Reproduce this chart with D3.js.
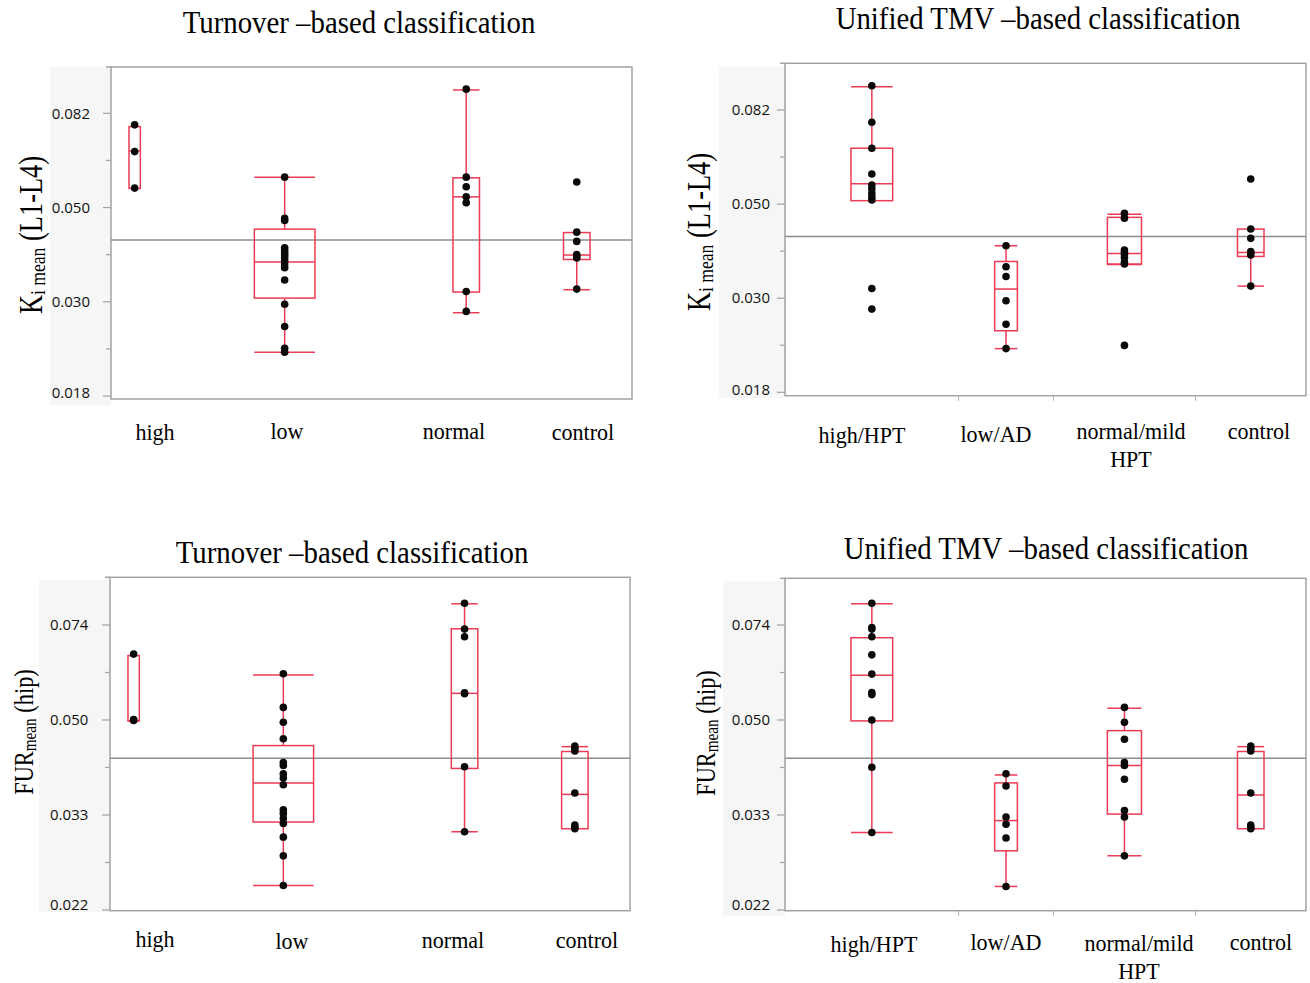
<!DOCTYPE html>
<html><head><meta charset="utf-8">
<script src="https://cdn.jsdelivr.net/npm/d3@7"></script>
<style>body{margin:0;background:#fff}</style>
</head><body>
<svg id="chart" width="1310" height="983"></svg>
<script>
// ---------------- data ----------------
const turnoverCategories = ["high", "low", "normal", "control"];
const tmvCategories = ["high/HPT", "low/AD", "normal/mild HPT", "control"];

const kiTickValues = [0.082085, 0.049787, 0.030197, 0.018316];
const kiTickLabels = ["0.082", "0.050", "0.030", "0.018"];
const kiMinorTicks = [0.063928, 0.038774, 0.023518];
const furTickValues = [0.074274, 0.049787, 0.033373, 0.022371];
const furTickLabels = ["0.074", "0.050", "0.033", "0.022"];
const furMinorTicks = [0.060810, 0.040762, 0.027324];

const kiTurnoverPoints = [
  [0.0772, 0.0670, 0.0552],
  [0.0585, 0.0470, 0.0465, 0.0402, 0.0396, 0.0391, 0.0386, 0.0381, 0.0375, 0.0369, 0.0362, 0.0339, 0.0298, 0.0265, 0.0236, 0.0231],
  [0.0933, 0.0585, 0.0556, 0.0527, 0.0511, 0.0319, 0.0287],
  [0.0570, 0.0437, 0.0416, 0.0388, 0.0384, 0.0381, 0.0323]
];
// [whisker low, Q1, median, Q3, whisker high]
const kiTurnoverBoxes = [
  [0.0551, 0.0551, 0.0672, 0.0765, 0.0765],
  [0.0231, 0.0308, 0.0373, 0.0444, 0.0585],
  [0.0285, 0.0318, 0.0527, 0.0583, 0.0929],
  [0.0322, 0.0378, 0.0387, 0.0436, 0.0436]
];
const kiTmvPoints = [
  [0.0934, 0.0769, 0.0670, 0.0584, 0.0551, 0.0540, 0.0527, 0.0517, 0.0509, 0.0318, 0.0285],
  [0.0399, 0.0357, 0.0339, 0.0298, 0.0263, 0.0231],
  [0.0474, 0.0462, 0.0390, 0.0385, 0.0381, 0.0375, 0.0366, 0.0362, 0.0235],
  [0.0569, 0.0436, 0.0415, 0.0387, 0.0384, 0.0380, 0.0322]
];
const kiTmvBoxes = [
  [0.0507, 0.0507, 0.0555, 0.0670, 0.0929],
  [0.0231, 0.0254, 0.0317, 0.0367, 0.0399],
  [0.0361, 0.0362, 0.0383, 0.0464, 0.0472],
  [0.0322, 0.0377, 0.0385, 0.0436, 0.0436]
];
const furTurnoverPoints = [
  [0.0657, 0.0499, 0.0497],
  [0.0605, 0.0525, 0.0493, 0.0460, 0.0416, 0.0411, 0.0397, 0.0390, 0.0379, 0.0341, 0.0336, 0.0329, 0.0322, 0.0304, 0.0281, 0.0248],
  [0.0814, 0.0730, 0.0707, 0.0558, 0.0556, 0.0409, 0.0311],
  [0.0446, 0.0442, 0.0437, 0.0366, 0.0320, 0.0317, 0.0315]
];
const furTurnoverBoxes = [
  [0.0496, 0.0496, 0.0496, 0.0653, 0.0653],
  [0.0248, 0.0324, 0.0382, 0.0447, 0.0602],
  [0.0311, 0.0406, 0.0557, 0.0731, 0.0812],
  [0.0315, 0.0315, 0.0364, 0.0436, 0.0445]
];
const furTmvPoints = [
  [0.0814, 0.0735, 0.0730, 0.0707, 0.0655, 0.0604, 0.0559, 0.0554, 0.0498, 0.0408, 0.0310],
  [0.0397, 0.0377, 0.0331, 0.0321, 0.0303, 0.0247],
  [0.0525, 0.0493, 0.0459, 0.0416, 0.0411, 0.0388, 0.0340, 0.0331, 0.0281],
  [0.0446, 0.0442, 0.0437, 0.0366, 0.0320, 0.0317, 0.0315]
];
const furTmvBoxes = [
  [0.0310, 0.0496, 0.0601, 0.0704, 0.0812],
  [0.0247, 0.0287, 0.0326, 0.0382, 0.0395],
  [0.0281, 0.0335, 0.0411, 0.0476, 0.0523],
  [0.0315, 0.0315, 0.0363, 0.0436, 0.0445]
];
const kiGrandMean = 0.0419;
const furGrandMean = 0.0424;

const titleTurnover = "Turnover –based classification";
const titleTmv = "Unified TMV –based classification";

// ---------------- layout ----------------
const SERIF = "'Liberation Serif','Times New Roman',serif";
const SANS = "'Open Sans','Noto Sans',sans-serif";
const BOX_COLOR = "#ec3b54";
const FRAME_COLOR = "#a2a2a2";

const panels = [
  { title: titleTurnover, titlePos: [359, 33], cats: turnoverCategories, points: kiTurnoverPoints, boxes: kiTurnoverBoxes,
    mean: kiGrandMean, ticks: kiTickValues, tickLabels: kiTickLabels, minor: kiMinorTicks,
    frame: {l: 111, r: 632, t: 67, b: 399}, lnTop: -2.2544, lnBot: -4.0156,
    bg: [50, 67, 111, 405], tickLabelRight: 90, ylab: {kind: "ki", x: 42, y: 235},
    catPos: [[155, 440], [287, 439], [454, 439], [583, 440]], separators: false },
  { title: titleTmv, titlePos: [1038, 29], cats: tmvCategories, points: kiTmvPoints, boxes: kiTmvBoxes,
    mean: kiGrandMean, ticks: kiTickValues, tickLabels: kiTickLabels, minor: kiMinorTicks,
    frame: {l: 785, r: 1306, t: 63.3, b: 395.7}, lnTop: -2.2519, lnBot: -4.0181,
    bg: [719, 66.7, 785, 398], tickLabelRight: 770, ylab: {kind: "ki", x: 710, y: 232},
    catPos: [[862, 443], [996, 442], [1131, 439], [1259, 439]], separators: true },
  { title: titleTurnover, titlePos: [352, 563], cats: turnoverCategories, points: furTurnoverPoints, boxes: furTurnoverBoxes,
    mean: furGrandMean, ticks: furTickValues, tickLabels: furTickLabels, minor: furMinorTicks,
    frame: {l: 110, r: 630, t: 577.3, b: 910.7}, lnTop: -2.3992, lnBot: -3.8030,
    bg: [39, 580, 110, 912], tickLabelRight: 88.3, ylab: {kind: "fur", x: 33, y: 732},
    catPos: [[155, 947], [292, 949], [453, 948], [587, 948]], separators: false },
  { title: titleTmv, titlePos: [1046, 559], cats: tmvCategories, points: furTmvPoints, boxes: furTmvBoxes,
    mean: furGrandMean, ticks: furTickValues, tickLabels: furTickLabels, minor: furMinorTicks,
    frame: {l: 785, r: 1306, t: 578.3, b: 910.7}, lnTop: -2.4034, lnBot: -3.8030,
    bg: [723, 581, 785, 916], tickLabelRight: 770, ylab: {kind: "fur", x: 715, y: 733},
    catPos: [[874, 952], [1006, 950], [1139, 951], [1261, 950]], separators: true }
];

const svg = d3.select("#chart");
svg.append("rect").attr("width", 1310).attr("height", 983).attr("fill", "#fff");

function condText(g, x, y, str, size, sx, anchor) {
  return g.append("text")
    .attr("transform", `translate(${x},${y}) scale(${sx},1)`)
    .attr("text-anchor", anchor || "middle")
    .style("font-family", SERIF).style("font-size", size + "px").attr("fill", "#000")
    .text(str);
}

panels.forEach(p => {
  const g = svg.append("g");
  const f = p.frame;
  const y = d3.scaleLog().domain([Math.exp(p.lnBot), Math.exp(p.lnTop)]).range([f.b, f.t]);
  const counts = p.points.map(a => a.length);
  const N = d3.sum(counts);
  const x = d3.scaleLinear().domain([0, N]).range([f.l, f.r]);
  const cum = d3.cumsum([0].concat(counts));

  // axis background
  g.append("rect").attr("x", p.bg[0]).attr("y", p.bg[1]).attr("width", p.bg[2] - p.bg[0]).attr("height", p.bg[3] - p.bg[1])
    .attr("fill", "#f6f6f6");
  g.append("rect").attr("x", f.l).attr("y", f.t).attr("width", f.r - f.l).attr("height", f.b - f.t).attr("fill", "#fff");

  // ticks
  p.ticks.forEach((t, i) => {
    const ty = y(t);
    g.append("line").attr("x1", f.l - 8).attr("x2", f.l).attr("y1", ty).attr("y2", ty)
      .attr("stroke", FRAME_COLOR).attr("stroke-width", 1.2);
    g.append("text").attr("x", p.tickLabelRight).attr("y", Math.min(ty, f.b - 6)).attr("dy", "0.35em")
      .attr("text-anchor", "end").style("font-family", SANS).style("font-size", "15px").attr("fill", "#111")
      .text(p.tickLabels[i]);
  });
  p.minor.forEach(t => {
    const ty = y(t);
    g.append("line").attr("x1", f.l - 5).attr("x2", f.l).attr("y1", ty).attr("y2", ty)
      .attr("stroke", FRAME_COLOR).attr("stroke-width", 1.2);
  });

  // frame
  g.append("rect").attr("x", f.l).attr("y", f.t).attr("width", f.r - f.l).attr("height", f.b - f.t)
    .attr("fill", "none").attr("stroke", FRAME_COLOR).attr("stroke-width", 1.5);
  g.append("line").attr("x1", f.l - 5).attr("x2", f.l).attr("y1", f.t).attr("y2", f.t)
    .attr("stroke", FRAME_COLOR).attr("stroke-width", 1.5);

  if (p.separators) {
    for (let i = 1; i < counts.length; i++) {
      const sx = x(cum[i]);
      g.append("line").attr("x1", sx).attr("x2", sx).attr("y1", f.b).attr("y2", f.b + 5)
        .attr("stroke", "#b0b0b0").attr("stroke-width", 1);
    }
  }

  // grand mean line
  g.append("line").attr("x1", f.l).attr("x2", f.r).attr("y1", y(p.mean)).attr("y2", y(p.mean))
    .attr("stroke", "#8c8c8c").attr("stroke-width", 1.5);

  // boxes and points
  p.boxes.forEach((b, i) => {
    const [wl, q1, med, q3, wh] = b;
    const cx = x(cum[i] + counts[i] / 2);
    const bw = 0.24 * (x(counts[i]) - x(0));
    const bg = g.append("g").attr("stroke", BOX_COLOR).attr("stroke-width", 1.5).attr("fill", "none");
    bg.append("rect").attr("x", cx - bw / 2).attr("y", y(q3)).attr("width", bw).attr("height", y(q1) - y(q3));
    bg.append("line").attr("x1", cx - bw / 2).attr("x2", cx + bw / 2).attr("y1", y(med)).attr("y2", y(med));
    if (wh > q3) {
      bg.append("line").attr("x1", cx).attr("x2", cx).attr("y1", y(q3)).attr("y2", y(wh));
      bg.append("line").attr("x1", cx - bw / 2).attr("x2", cx + bw / 2).attr("y1", y(wh)).attr("y2", y(wh));
    }
    if (wl < q1) {
      bg.append("line").attr("x1", cx).attr("x2", cx).attr("y1", y(q1)).attr("y2", y(wl));
      bg.append("line").attr("x1", cx - bw / 2).attr("x2", cx + bw / 2).attr("y1", y(wl)).attr("y2", y(wl));
    }
    g.selectAll(null).data(p.points[i]).join("circle")
      .attr("cx", cx).attr("cy", d => y(d)).attr("r", 3.8).attr("fill", "#0a0a0a");
  });

  // title
  condText(g, p.titlePos[0], p.titlePos[1], p.title, 31, 0.93);

  // category labels
  p.cats.forEach((c, i) => {
    const [lx, ly] = p.catPos[i];
    const sp = c.lastIndexOf(" ");
    if (sp > 0) {
      condText(g, lx, ly, c.slice(0, sp), 24, 0.92);
      condText(g, lx, ly + 28, c.slice(sp + 1), 24, 0.92);
    } else {
      condText(g, lx, ly, c, 24, 0.92);
    }
  });

  // y axis label
  const yl = p.ylab;
  const t = g.append("text")
    .attr("transform", `translate(${yl.x},${yl.y}) rotate(-90) scale(0.8,1)`)
    .attr("text-anchor", "middle").style("font-family", SERIF).attr("fill", "#000");
  if (yl.kind === "ki") {
    t.style("font-size", "33px");
    t.append("tspan").text("K");
    t.append("tspan").style("font-size", "22px").attr("dy", 3).text("i mean");
    t.append("tspan").attr("dy", -3).text(" (L1-L4)");
  } else {
    t.style("font-size", "28px");
    t.append("tspan").text("FUR");
    t.append("tspan").style("font-size", "19px").attr("dy", 3).text("mean");
    t.append("tspan").attr("dy", -3).text(" (hip)");
  }
});
</script>
</body></html>
